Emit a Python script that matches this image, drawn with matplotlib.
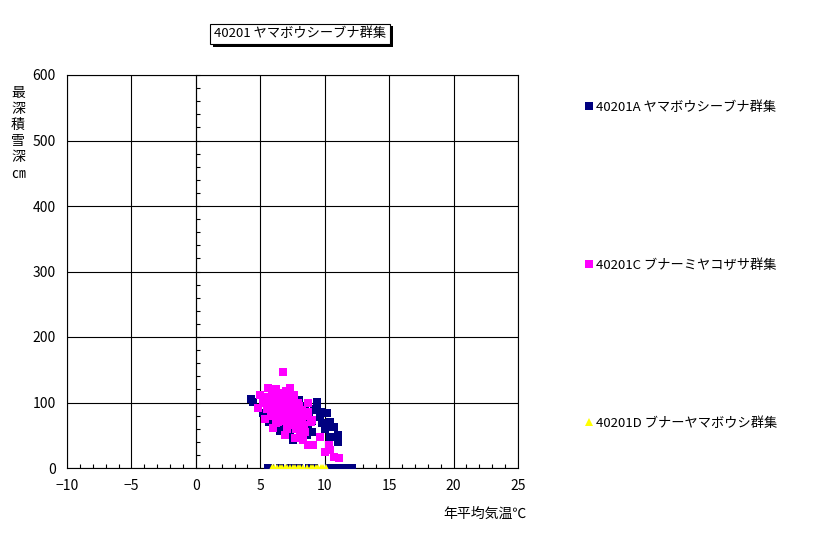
import numpy as np
import matplotlib
matplotlib.use("Agg")
import matplotlib.pyplot as plt
import matplotlib.patheffects as pe

plt.rcParams['font.family'] = ['Noto Sans CJK JP', 'DejaVu Sans']

# series A: 40201A ヤマボウシーブナ群集
a_temp = [4.3, 4.4, 5.2, 5.5, 5.8, 6.0, 6.2, 6.3, 6.5, 6.6, 6.8, 7.0, 7.2, 7.4, 7.5,
          7.6, 7.8, 8.0, 8.1, 8.2, 8.4, 8.5, 8.7, 8.8, 9.0, 9.0, 9.2, 9.4, 9.4, 9.6,
          9.8, 10.0, 10.2, 10.2, 10.4, 10.4, 10.7, 11.0, 11.0, 6.9, 5.7, 7.3, 8.6, 9.7,
          5.6, 6.5, 7.4, 8.0, 8.8, 9.2, 10.3, 10.5, 10.8, 11.0, 11.3, 11.5, 11.8, 12.1]
a_snow = [105, 101, 84, 95, 88, 99, 104, 75, 57, 65, 92, 80, 70, 100, 43,
          62, 90, 104, 85, 70, 76, 95, 63, 80, 55, 72, 90, 101, 88, 78,
          68, 60, 84, 63, 70, 47, 63, 50, 40, 110, 70, 55, 50, 85,
          0, 0, 0, 0, 0, 0, 0, 0, 0, 0, 0, 0, 0, 0]

# series C: 40201C ブナーミヤコザサ群集
c_temp = [6.8, 5.6, 6.2, 7.0, 7.3, 5.0, 5.3, 5.9, 6.5, 7.6, 4.8, 5.2, 5.5, 5.8, 6.0,
          6.1, 6.3, 6.4, 6.6, 6.7, 6.9, 7.0, 7.1, 7.2, 7.3, 7.4, 7.5, 7.6, 7.7, 7.8,
          7.9, 8.0, 8.1, 8.2, 8.3, 8.4, 8.5, 8.6, 8.7, 8.7, 8.7, 8.9, 9.0, 9.1, 9.6,
          10.0, 10.3, 10.4, 10.7, 11.1, 5.4, 6.0, 6.4, 7.1, 6.5, 7.9, 5.7, 6.2, 7.5, 8.0,
          5.9, 6.3, 6.7, 6.9, 7.2, 7.6, 7.8, 6.1, 6.6, 7.0, 7.4, 7.7, 8.2, 6.8, 6.4]
c_snow = [147, 122, 120, 118, 122, 111, 108, 110, 115, 112, 92, 100, 90, 80, 61,
          95, 85, 70, 100, 88, 50, 75, 95, 105, 65, 85, 92, 78, 46, 60,
          100, 70, 55, 88, 43, 65, 55, 80, 99, 86, 35, 70, 73, 35, 47,
          24, 35, 27, 17, 15, 75, 105, 112, 60, 78, 82, 100, 68, 108, 95,
          90, 98, 108, 82, 88, 100, 74, 80, 92, 102, 96, 68, 76, 72, 104]

# series D: 40201D ブナーヤマボウシ群集
d_temp = [5.9, 6.1, 6.3, 6.5, 6.7, 6.9, 7.1, 7.3, 7.5, 7.7, 7.9, 8.1, 8.3, 8.6,
          8.9, 9.1, 9.3, 9.5, 9.7, 9.9, 10.1]
d_snow = [0] * len(d_temp)

labels = ['40201A ヤマボウシーブナ群集', '40201C ブナーミヤコザサ群集', '40201D ブナーヤマボウシ群集']

fig = plt.figure(figsize=(8.16, 5.34), dpi=100)
ax = fig.add_axes([67 / 816, 1 - 468 / 534, 451 / 816, 393 / 534])

h1, = ax.plot(a_temp, a_snow, linestyle='none', marker='s', ms=5.2, mew=0, color='#000080', zorder=3)
h2, = ax.plot(c_temp, c_snow, linestyle='none', marker='s', ms=5.2, mew=0, color='#FF00FF', zorder=4)
h3, = ax.plot(d_temp, d_snow, linestyle='none', marker='^', ms=5.5, mew=0, color='#FFFF00', zorder=5)

ax.set_xlim(-10, 25)
ax.set_ylim(0, 600)
ax.set_xticks(np.arange(-10, 26, 5))
ax.set_yticks(np.arange(0, 601, 100))
ax.set_xticks(np.arange(-10, 26, 1), minor=True)
ax.grid(True, which='major', color='black', linewidth=0.8)
ax.tick_params(axis='both', which='major', length=0, labelsize=10, pad=8)
ax.tick_params(axis='x', which='minor', direction='in', length=3, width=0.8)
ax.tick_params(axis='y', which='minor', length=0)
for s in ax.spines.values():
    s.set_linewidth(0.8)

# y axis crossing at x = 0 with minor ticks
sec = ax.secondary_yaxis(10 / 35)
sec.set_yticks(np.arange(0, 601, 100))
sec.set_yticks(np.arange(0, 601, 20), minor=True)
sec.tick_params(which='both', direction='in', length=3, width=0.8, labelleft=False)
sec.spines['left'].set_linewidth(0.8)

ax.legend([h1, h2, h3], labels, loc='upper left', bbox_to_anchor=(578 / 816, 1 - 94 / 534),
          bbox_transform=fig.transFigure, frameon=False, fontsize=9.5,
          labelspacing=11.0, handlelength=0.6, handletextpad=0.3, borderpad=0)

t = fig.text(300 / 816, 1 - 34 / 534, '40201 ヤマボウシーブナ群集', ha='center', va='center', fontsize=9.5,
             bbox=dict(boxstyle='square,pad=0.3', fc='white', ec='black', lw=0.8))
t.get_bbox_patch().set_path_effects([pe.SimplePatchShadow(offset=(2, -2), shadow_rgbFace='black', alpha=1),
                                     pe.Normal()])

fig.text(18 / 816, 1 - 133 / 534, '\n'.join(['最', '深', '積', '雪', '深', '㎝']), ha='center', va='center',
         fontsize=10, linespacing=1.2)
fig.text(485 / 816, 1 - 514 / 534, '年平均気温℃', ha='center', va='center', fontsize=10)

fig.savefig('out.png', dpi=100)
